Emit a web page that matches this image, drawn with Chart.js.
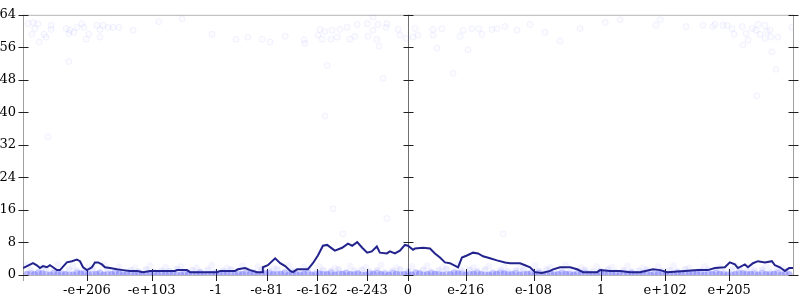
<!DOCTYPE html>
<html>
<head>
<meta charset="utf-8">
<script src="https://cdn.jsdelivr.net/npm/chart.js@4"></script>
<style>
  html, body { margin: 0; padding: 0; background: #ffffff; }
  #wrap { width: 800px; height: 300px; }
</style>
</head>
<body>
<div id="wrap"><canvas id="errChart" width="800" height="300"></canvas></div>
<script>
// x is the position of the input on the float number line, -1 .. 1 (0 in the middle)
const tickPos = [-0.834, -0.666, -0.499, -0.367, -0.236, -0.106, 0, 0.150, 0.326, 0.501, 0.668, 0.834];
const tickLabels = ["-e+206", "-e+103", "-1", "-e-81", "-e-162", "-e-243", "0", "e-216", "e-108", "1", "e+102", "e+205"];

// average error (bits)
const avgX = [-1.000, -0.974, -0.964, -0.956, -0.948, -0.938, -0.930, -0.922, -0.912, -0.904, -0.886, -0.873, -0.860, -0.852, -0.844, -0.834, -0.821, -0.813, -0.805, -0.795, -0.787, -0.774, -0.756, -0.740, -0.722, -0.704, -0.688, -0.670, -0.605, -0.600, -0.574, -0.566, -0.496, -0.488, -0.449, -0.442, -0.423, -0.410, -0.392, -0.379, -0.377, -0.364, -0.345, -0.332, -0.319, -0.306, -0.299, -0.288, -0.260, -0.247, -0.234, -0.221, -0.210, -0.197, -0.190, -0.171, -0.156, -0.145, -0.132, -0.119, -0.106, -0.094, -0.081, -0.073, -0.055, -0.047, -0.034, -0.021, -0.008, 0.000, 0.013, 0.018, 0.039, 0.057, 0.070, 0.083, 0.096, 0.109, 0.130, 0.140, 0.153, 0.169, 0.182, 0.195, 0.213, 0.231, 0.252, 0.265, 0.291, 0.304, 0.317, 0.330, 0.348, 0.369, 0.377, 0.395, 0.421, 0.439, 0.455, 0.491, 0.499, 0.525, 0.551, 0.577, 0.603, 0.636, 0.655, 0.673, 0.719, 0.753, 0.779, 0.797, 0.823, 0.836, 0.849, 0.857, 0.875, 0.883, 0.896, 0.909, 0.927, 0.945, 0.953, 0.966, 0.979, 0.990, 1.000];
const avgY = [1.7, 2.9, 2.4, 1.7, 2.2, 1.9, 2.4, 1.9, 1.2, 1.2, 3.1, 3.4, 3.8, 3.4, 1.9, 1.2, 1.9, 3.1, 3.1, 2.6, 1.9, 1.7, 1.4, 1.2, 1.0, 1.0, 0.7, 1.0, 1.0, 1.2, 1.2, 0.7, 0.7, 1.0, 1.0, 1.4, 1.7, 1.2, 0.7, 0.7, 1.9, 2.4, 4.1, 2.9, 2.2, 1.0, 0.7, 1.4, 1.4, 2.9, 4.8, 7.2, 7.4, 6.5, 6.0, 6.7, 7.7, 7.2, 8.1, 6.7, 5.5, 5.8, 7.0, 5.5, 5.3, 5.8, 5.3, 6.0, 7.4, 7.2, 6.2, 6.5, 6.7, 6.5, 5.3, 4.3, 3.1, 2.9, 1.9, 4.3, 4.8, 5.5, 5.3, 4.6, 4.1, 3.6, 3.1, 2.9, 2.9, 2.4, 1.9, 0.7, 0.5, 1.0, 1.4, 1.9, 1.9, 1.4, 0.7, 0.7, 1.2, 1.0, 1.0, 0.7, 0.7, 1.4, 1.2, 0.7, 1.0, 1.2, 1.2, 1.7, 1.9, 3.1, 2.6, 1.7, 2.6, 1.9, 2.9, 3.4, 3.1, 3.4, 2.4, 1.9, 1.0, 1.7, 1.7];

// sampled points with large error
const highX = [-0.987, -0.974, -0.961, -0.977, -0.969, -0.958, -0.945, -0.940, -0.927, -0.927, -0.888, -0.878, -0.881, -0.868, -0.860, -0.847, -0.842, -0.836, -0.829, -0.808, -0.800, -0.800, -0.792, -0.779, -0.766, -0.751, -0.714, -0.647, -0.587, -0.881, -0.935, -0.509, -0.447, -0.416, -0.358, -0.319, -0.379, -0.229, -0.216, -0.197, -0.177, -0.158, -0.234, -0.223, -0.200, -0.184, -0.151, -0.138, -0.132, -0.106, -0.104, -0.091, -0.078, -0.081, -0.075, -0.091, -0.055, -0.057, -0.026, -0.021, -0.005, 0.018, 0.026, 0.013, 0.065, 0.088, 0.065, 0.075, 0.135, 0.143, 0.156, 0.166, 0.184, 0.192, 0.218, 0.231, -0.270, -0.268, -0.210, -0.065, 0.117, -0.216, -0.195, -0.055, -0.169, 0.247, 0.252, 0.283, 0.317, 0.356, 0.395, 0.447, 0.512, 0.551, 0.644, 0.655, 0.722, 0.766, 0.792, 0.797, 0.818, 0.829, 0.842, 0.847, 0.868, 0.878, 0.883, 0.870, 0.894, 0.904, 0.909, 0.914, 0.927, 0.927, 0.932, 0.940, 0.943, 0.961, 0.945, 0.956, 0.906, 0.997];
const highY = [61.8, 62.1, 61.8, 59.2, 60.6, 57.3, 59.2, 58.5, 61.4, 60.4, 60.6, 60.2, 59.4, 59.7, 60.9, 61.8, 60.9, 58.0, 59.2, 61.4, 60.4, 58.5, 61.4, 60.9, 60.9, 60.9, 60.2, 62.3, 63.0, 52.5, 34.0, 59.2, 58.0, 58.5, 57.3, 58.7, 58.0, 60.4, 59.9, 60.2, 60.4, 60.9, 59.0, 58.0, 58.0, 58.5, 58.0, 58.7, 61.6, 61.8, 58.7, 60.2, 61.6, 58.0, 56.3, 63.5, 61.8, 60.9, 60.4, 59.0, 58.2, 60.6, 59.0, 58.5, 60.4, 60.6, 59.0, 55.8, 58.7, 60.2, 55.4, 60.6, 60.6, 59.2, 60.4, 60.6, 57.8, 57.0, 51.5, 48.4, 49.6, 39.1, 16.3, 13.9, 10.1, 10.1, 61.1, 60.2, 61.6, 59.7, 57.5, 60.6, 62.1, 62.8, 61.4, 62.8, 61.1, 61.4, 61.1, 61.6, 61.4, 61.4, 60.6, 59.2, 61.1, 59.4, 57.8, 56.6, 60.6, 60.2, 61.6, 59.2, 61.4, 58.2, 59.9, 60.2, 58.5, 58.5, 54.9, 50.6, 44.1, 60.9];

// sampled points with small error (the cloud along the bottom)
const zeroX = [-0.99, -0.97, -0.95, -0.93, -0.91, -0.89, -0.87, -0.85, -0.83, -0.81, -0.79, -0.77, -0.75, -0.73, -0.71, -0.69, -0.67, -0.65, -0.63, -0.61, -0.59, -0.57, -0.55, -0.53, -0.51, -0.49, -0.47, -0.45, -0.43, -0.41, -0.39, -0.37, -0.35, -0.33, -0.31, -0.29, -0.27, -0.25, -0.23, -0.21, -0.19, -0.17, -0.15, -0.13, -0.11, -0.09, -0.07, -0.05, -0.03, -0.01, 0.01, 0.03, 0.05, 0.07, 0.09, 0.11, 0.13, 0.15, 0.17, 0.19, 0.21, 0.23, 0.25, 0.27, 0.29, 0.31, 0.33, 0.35, 0.37, 0.39, 0.41, 0.43, 0.45, 0.47, 0.49, 0.51, 0.53, 0.55, 0.57, 0.59, 0.61, 0.63, 0.65, 0.67, 0.69, 0.71, 0.73, 0.75, 0.77, 0.79, 0.81, 0.83, 0.85, 0.87, 0.89, 0.91, 0.93, 0.95, 0.97, 0.99];
const zeroY = [0.2, 0.1, 0.3, 0.0, 0.2, 0.1, 0.0, 0.3, 0.1, 0.2, 0.0, 0.1, 0.3, 0.2, 0.0, 0.1, 0.2, 0.0, 0.1, 0.3, 0.0, 0.2, 0.1, 0.0, 0.2, 0.1, 0.3, 0.0, 0.1, 0.2, 0.0, 0.3, 0.1, 0.2, 0.0, 0.1, 0.2, 0.0, 0.3, 0.1, 0.0, 0.2, 0.1, 0.3, 0.0, 0.2, 0.1, 0.0, 0.2, 0.1, 0.0, 0.3, 0.1, 0.2, 0.0, 0.1, 0.3, 0.0, 0.2, 0.1, 0.0, 0.2, 0.3, 0.1, 0.0, 0.2, 0.1, 0.0, 0.3, 0.1, 0.2, 0.0, 0.1, 0.2, 0.0, 0.3, 0.1, 0.0, 0.2, 0.1, 0.3, 0.0, 0.2, 0.1, 0.0, 0.2, 0.1, 0.3, 0.0, 0.1, 0.2, 0.0, 0.1, 0.3, 0.2, 0.0, 0.1, 0.2, 0.0, 0.1];
const lowX = [-0.98, -0.96, -0.94, -0.92, -0.90, -0.88, -0.86, -0.84, -0.82, -0.80, -0.78, -0.76, -0.74, -0.72, -0.70, -0.68, -0.66, -0.64, -0.62, -0.60, -0.58, -0.56, -0.54, -0.52, -0.50, -0.48, -0.46, -0.44, -0.42, -0.40, -0.38, -0.36, -0.34, -0.32, -0.30, -0.28, -0.26, -0.24, -0.22, -0.20, -0.18, -0.16, -0.14, -0.12, -0.10, -0.08, -0.06, -0.04, -0.02, 0.00, 0.02, 0.04, 0.06, 0.08, 0.10, 0.12, 0.14, 0.16, 0.18, 0.20, 0.22, 0.24, 0.26, 0.28, 0.30, 0.32, 0.34, 0.36, 0.38, 0.40, 0.42, 0.44, 0.46, 0.48, 0.50, 0.52, 0.54, 0.56, 0.58, 0.60, 0.62, 0.64, 0.66, 0.68, 0.70, 0.72, 0.74, 0.76, 0.78, 0.80, 0.82, 0.84, 0.86, 0.88, 0.90, 0.92, 0.94, 0.96, 0.98];
const lowY = [1.1, 0.7, 1.4, 0.9, 0.6, 1.3, 1.0, 0.8, 1.5, 0.7, 1.2, 0.9, 0.6, 1.1, 0.8, 1.3, 0.7, 1.0, 0.9, 1.4, 0.6, 1.1, 0.8, 1.2, 0.7, 1.0, 1.3, 0.8, 1.1, 0.6, 1.2, 0.9, 1.4, 0.7, 1.0, 0.8, 1.2, 0.6, 1.1, 0.9, 1.3, 0.7, 1.0, 1.2, 0.8, 1.1, 0.6, 1.0, 1.3, 0.9, 0.7, 1.2, 0.8, 1.1, 1.4, 0.7, 1.0, 1.2, 0.9, 1.3, 0.6, 1.1, 0.8, 1.0, 1.2, 0.7, 0.9, 1.3, 0.8, 1.1, 0.6, 1.0, 1.2, 0.8, 0.9, 1.3, 0.7, 1.1, 0.8, 1.0, 1.2, 0.6, 0.9, 1.1, 0.8, 1.3, 0.7, 1.0, 1.2, 0.9, 0.6, 1.1, 1.4, 0.8, 1.0, 1.3, 0.7, 1.1, 0.9];
const low2Y = [0.3, 0.5, 0.1, 0.4, 0.2, 0.0, 0.5, 0.3, 0.1, 0.4, 0.2, 0.5, 0.0, 0.3, 0.4, 0.1, 0.5, 0.2, 0.3, 0.0, 0.4, 0.2, 0.5, 0.1, 0.3, 0.4, 0.0, 0.2, 0.5, 0.3, 0.1, 0.4, 0.2, 0.5, 0.3, 0.0, 0.4, 0.1, 0.2, 0.5, 0.3, 0.4, 0.1, 0.0, 0.3, 0.5, 0.2, 0.4, 0.1, 0.3, 0.5, 0.0, 0.4, 0.2, 0.1, 0.5, 0.3, 0.2, 0.4, 0.0, 0.3, 0.5, 0.1, 0.4, 0.2, 0.3, 0.5, 0.1, 0.0, 0.4, 0.2, 0.3, 0.5, 0.1, 0.4, 0.2, 0.0, 0.3, 0.5, 0.1, 0.4, 0.2, 0.3, 0.0, 0.5, 0.1, 0.4, 0.2, 0.3, 0.5, 0.1, 0.0, 0.4, 0.2, 0.3, 0.5, 0.1, 0.4, 0.2];
const hazeX = [-0.99, -0.95, -0.91, -0.87, -0.83, -0.79, -0.75, -0.71, -0.67, -0.63, -0.59, -0.55, -0.51, -0.47, -0.43, -0.39, -0.35, -0.31, -0.27, -0.23, -0.19, -0.15, -0.11, -0.07, -0.03, 0.01, 0.05, 0.09, 0.13, 0.17, 0.21, 0.25, 0.29, 0.33, 0.37, 0.41, 0.45, 0.49, 0.53, 0.57, 0.61, 0.65, 0.69, 0.73, 0.77, 0.81, 0.85, 0.89, 0.93, 0.97];
const hazeY = [2.4, 1.9, 2.6, 2.2, 1.8, 2.5, 2.0, 1.7, 2.3, 1.9, 2.1, 1.8, 2.4, 1.7, 2.2, 2.0, 1.8, 2.3, 1.9, 2.1, 1.7, 2.2, 1.9, 2.4, 1.8, 2.1, 2.3, 1.9, 2.5, 1.8, 2.2, 2.0, 1.7, 2.3, 1.9, 2.4, 1.8, 2.1, 1.9, 2.2, 1.7, 2.0, 2.3, 1.8, 2.1, 1.9, 2.4, 2.0, 2.2, 1.8];

const yMin = 0;
const yMax = 64;

function pts(xs, ys) {
  return xs.map((x, i) => ({ x, y: ys[i] }));
}

const serif = "'DejaVu Serif', serif";

// axis lines and the tick marks that cross them
const axesPlugin = {
  id: "axesPlugin",
  beforeDatasetsDraw(chart) {
    const { ctx, chartArea: a, scales } = chart;
    const ys = scales.y;
    const xs = scales.x;
    const midX = xs.getPixelForValue(0);
    ctx.save();
    ctx.lineWidth = 1;

    ctx.strokeStyle = "#b4b4b4";
    ctx.beginPath();
    ctx.moveTo(a.left, a.top + 0.5);
    ctx.lineTo(a.right, a.top + 0.5);
    ctx.moveTo(a.left, a.bottom + 0.5);
    ctx.lineTo(a.right, a.bottom + 0.5);
    ctx.stroke();

    ctx.strokeStyle = "#a0a0a0";
    ctx.beginPath();
    ctx.moveTo(Math.round(a.left) + 0.5, a.top);
    ctx.lineTo(Math.round(a.left) + 0.5, a.bottom + 6);
    ctx.moveTo(Math.round(a.right) + 0.5, a.top);
    ctx.lineTo(Math.round(a.right) + 0.5, a.bottom);
    ctx.stroke();

    ctx.strokeStyle = "#707070";
    ctx.beginPath();
    ctx.moveTo(Math.round(midX) + 0.5, a.top);
    ctx.lineTo(Math.round(midX) + 0.5, a.bottom);
    ctx.stroke();

    ys.ticks.forEach((t) => {
      const py = Math.round(ys.getPixelForValue(t.value)) + 0.5;
      const major = t.value % 8 === 0;
      const h = major ? 5 : 2.5;
      ctx.strokeStyle = major ? "#202020" : "#606060";
      ctx.beginPath();
      [a.left, midX, a.right].forEach((px) => {
        const cx = Math.round(px) + 0.5;
        ctx.moveTo(cx - h, py);
        ctx.lineTo(cx + h, py);
      });
      ctx.stroke();
    });

    ctx.strokeStyle = "#202020";
    ctx.beginPath();
    tickPos.forEach((v) => {
      const px = Math.round(xs.getPixelForValue(v)) + 0.5;
      ctx.moveTo(px, a.bottom - 6);
      ctx.lineTo(px, a.bottom + 6);
    });
    ctx.stroke();
    ctx.restore();
  }
};

new Chart(document.getElementById("errChart"), {
  data: {
    datasets: [
      {
        type: "scatter",
        data: pts(zeroX, zeroY),
        pointRadius: 3.5,
        pointBorderWidth: 0,
        pointBackgroundColor: "rgba(40, 40, 255, 0.3)",
        order: 5
      },
      {
        type: "scatter",
        data: pts(lowX, low2Y),
        pointRadius: 3.5,
        pointBorderWidth: 0,
        pointBackgroundColor: "rgba(50, 50, 255, 0.2)",
        order: 4
      },
      {
        type: "scatter",
        data: pts(lowX, lowY),
        pointRadius: 3.5,
        pointBorderWidth: 0,
        pointBackgroundColor: "rgba(70, 70, 255, 0.1)",
        order: 3
      },
      {
        type: "scatter",
        data: pts(hazeX, hazeY),
        pointRadius: 3.5,
        pointBorderWidth: 0,
        pointBackgroundColor: "rgba(90, 90, 255, 0.06)",
        order: 2
      },
      {
        type: "scatter",
        data: pts(highX, highY),
        pointRadius: 3,
        pointBorderWidth: 1,
        pointBackgroundColor: "rgba(90, 90, 255, 0.02)",
        pointBorderColor: "rgba(90, 90, 255, 0.08)",
        order: 1
      },
      {
        type: "line",
        data: pts(avgX, avgY),
        borderColor: "#23238e",
        borderWidth: 2,
        pointRadius: 0,
        tension: 0,
        order: 0
      }
    ]
  },
  options: {
    responsive: false,
    animation: false,
    events: [],
    layout: { padding: { top: 8, right: 7, left: 0, bottom: 0 } },
    plugins: { legend: { display: false }, tooltip: { enabled: false } },
    scales: {
      x: {
        type: "linear",
        min: -1,
        max: 1,
        afterFit(scale) { scale.height = 25; },
        afterBuildTicks(scale) {
          scale.ticks = tickPos.map((v) => ({ value: v }));
        },
        ticks: {
          autoSkip: false,
          maxRotation: 0,
          padding: 8,
          color: "#000000",
          font: { family: serif, size: 13 },
          callback(value, index) {
            return tickLabels[index];
          }
        },
        grid: { display: false, drawTicks: false },
        border: { display: false }
      },
      y: {
        type: "linear",
        min: yMin,
        max: yMax,
        afterFit(scale) { scale.width = 23; },
        ticks: {
          stepSize: 4,
          padding: 7,
          color: "#000000",
          font: { family: serif, size: 13 },
          callback(value) {
            return value % 8 === 0 ? String(value) : "";
          }
        },
        grid: { display: false, drawTicks: false },
        border: { display: false }
      }
    }
  },
  plugins: [axesPlugin]
});
</script>
</body>
</html>
